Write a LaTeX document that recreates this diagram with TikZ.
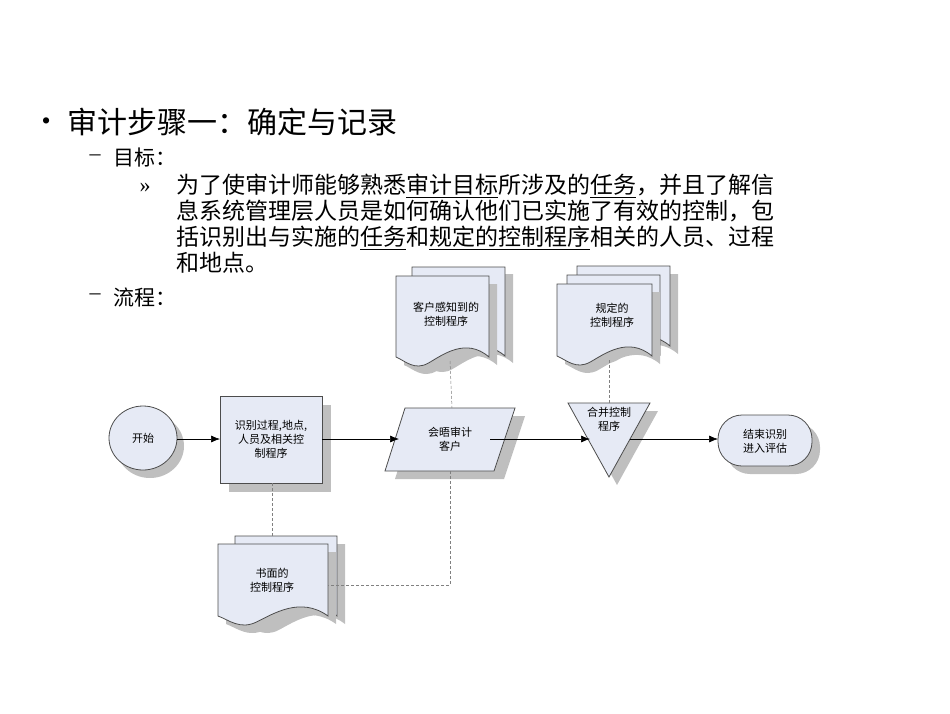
\documentclass[tikz,border=0pt]{standalone}
\usepackage{fontspec}
\setmainfont{Liberation Serif}
\newfontfamily\cjk{Noto Sans CJK SC}
\usetikzlibrary{arrows.meta}
\definecolor{boxfill}{RGB}{230,234,245}
\tikzset{
  fl/.style={draw=black!70,fill=boxfill,line width=0.8pt},
  sh/.style={fill=black!25},
  lbl/.style={font=\cjk\fontsize{11}{14}\selectfont,align=center},
  arr/.style={-{Latex[length=9pt,width=7pt]},line width=0.6pt},
  dl/.style={densely dashed,draw=black!50,line width=0.5pt},
}
\newcommand{\docpath}[4]{% x y w h (y down)
  (#1,#2) -- (#1+#3,#2) -- (#1+#3,#2+#4-6) .. controls (#1+0.75*#3,#2+#4-26) and (#1+0.5*#3,#2+#4-8) .. (#1+0.35*#3,#2+#4) .. controls (#1+0.2*#3,#2+#4+8) and (#1+0.1*#3,#2+#4-2) .. (#1,#2+#4-6) -- cycle}
\begin{document}
\begin{tikzpicture}[x=1pt,y=-1pt]
\useasboundingbox (0,0) rectangle (950,713);
% text
\node[anchor=west,font=\fontsize{26}{30}\selectfont] (tb) at (38,124) {•};
\node[anchor=west,font=\cjk\fontsize{30}{34}\selectfont] (t) at (64,122) {审计步骤一：确定与记录};
\node[anchor=west,font=\fontsize{22}{24}\selectfont] (gd) at (86,158) {–};
\node[anchor=west,font=\cjk\fontsize{21}{24}\selectfont] (g) at (110,158) {目标：};
\node[anchor=west,font=\fontsize{22}{24}\selectfont] (m) at (136,188) {»};
\node[anchor=north west,font=\cjk\fontsize{23}{26}\selectfont,align=left,inner sep=0pt] (p) at (176,174) {为了使审计师能够熟悉\underline{审计目标}所涉及的\underline{任务}，并且了解信\\息系统管理层人员是如何确认他们已实施了有效的控制，包\\括识别出与实施的\underline{任务}和\underline{规定的控制程序}相关的人员、过程\\和地点。};
\node[anchor=west,font=\fontsize{22}{24}\selectfont] (ld) at (86,297) {–};
\node[anchor=west,font=\cjk\fontsize{21}{24}\selectfont] (l) at (110,297) {流程：};
% start
\fill[sh] (150,446) ellipse (34 and 32);
\draw[fl] (143,438) ellipse (34 and 32);
\node[lbl] (s) at (143,438) {开始};
% process box
\fill[sh] (229,405) rectangle (331,492);
\draw[fl] (220,396) rectangle (322,483);
\node[lbl] (b) at (271,439) {识别过程,地点,\\人员及相关控\\制程序};
% parallelogram
\fill[sh] (415,416) -- (525,416) -- (504,479) -- (395,479) -- cycle;
\draw[fl] (405,408) -- (515,408) -- (494,471) -- (385,471) -- cycle;
\node[lbl] (pa) at (450,439) {会晤审计\\客户};
% triangle
\fill[sh] (576,411) -- (658,411) -- (617,485) -- cycle;
\draw[fl] (568,403) -- (650,403) -- (609,477) -- cycle;
\node[lbl,anchor=north] (tr) at (609,404) {合并控制\\程序};
% end terminal
\fill[sh,rounded corners=24pt] (726,423) rectangle (820,474);
\draw[fl,rounded corners=24pt] (718,415) rectangle (812,466);
\node[lbl] (e) at (765,441) {结束识别\\进入评估};
% doc1
\fill[sh] \docpath{420}{274}{93}{95};
\draw[fl] \docpath{412}{267}{93}{95};
\fill[sh] \docpath{404}{284}{93}{87};
\draw[fl] \docpath{396}{276}{93}{87};
\node[lbl] (d1) at (446,314) {客户感知到的\\控制程序};
% doc2
\fill[sh] \docpath{585}{274}{93}{86};
\draw[fl] \docpath{577}{266}{93}{86};
\draw[fl] \docpath{567}{275}{93}{86};
\fill[sh] \docpath{565}{292}{95}{78};
\draw[fl] \docpath{557}{284}{95}{78};
\node[lbl] (d2) at (612,315) {规定的\\控制程序};
% doc3
\fill[sh] \docpath{243}{544}{102}{86};
\draw[fl] \docpath{235}{536}{102}{86};
\fill[sh] \docpath{226}{552}{110}{78};
\draw[fl] \docpath{218}{544}{110}{78};
\node[lbl] (d3) at (272,580) {书面的\\控制程序};
% connectors
\coordinate (c1) at (450,585);
\draw[arr] (177,439) -- (220,439);
\draw[arr] (322,439) -- (399,439);
\draw[arr] (490,439) -- (590,439);
\draw[arr] (630,439) -- (718,439);
\draw[dl] (450,361) -- (452,408);
\draw[dl] (609,360) -- (609,403);
\draw[dl] (272,483) -- (272,536);
\draw[dl] (450,471) -- (c1) -- (328,585);
\end{tikzpicture}
\end{document}
